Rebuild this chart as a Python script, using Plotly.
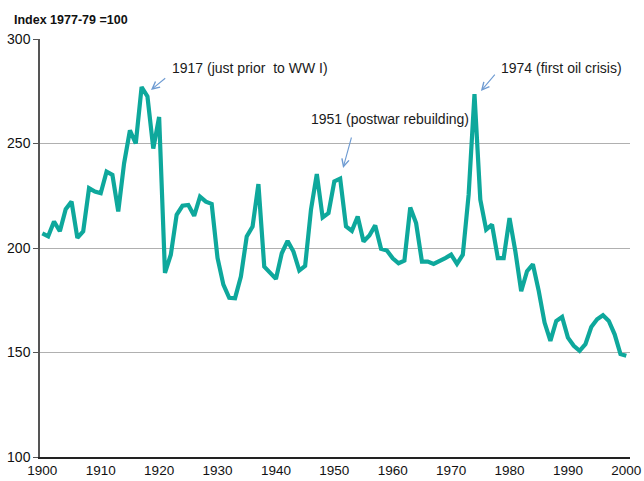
import plotly.graph_objects as go

years = list(range(1900, 2001))
index_values = [
    207, 205.6, 212.7, 208, 218.6, 222.2, 204.8, 208, 228.6, 227,
    226.2, 236.5, 235, 217.5, 240.5, 256.3, 250, 277, 272.5, 247.6,
    262.7, 188.1, 196.8, 215.9, 220.2, 220.6, 215.4, 224.6, 222.2, 221.1,
    195.2, 182.5, 176.2, 176, 186.3, 205.5, 210.3, 230.6, 191.1, 187.9,
    185.2, 197.5, 203.4, 198.3, 189.2, 191.4, 218.3, 235.4, 214.6, 216.7,
    231.9, 233.2, 210.3, 208.2, 215.1, 203.1, 206, 210.8, 199.6, 198.8,
    195.1, 192.7, 194, 219.4, 211.9, 193.5, 193.5, 192.4, 193.6, 195.2,
    196.8, 192.4, 196.8, 225.5, 273.6, 223.1, 208.8, 211.2, 195.2, 195.2,
    214.3, 198.4, 179.3, 188.9, 192.2, 179.5, 164.3, 155.6, 165.1, 167,
    157.1, 153.2, 150.8, 154, 162.2, 165.9, 167.8, 165.1, 158.7, 149.2,
    148.4,
]
x_ticks = list(range(1900, 2001, 10))
y_ticks = [100, 150, 200, 250, 300]

notes = [
    # text, text x, text y, arrow tail x, tail y, arrow tip x, tip y
    ("1917 (just prior  to WW I)", 1921.9, 286.1, 1921.3, 281.8, 1918.6, 275.6),
    ("1951 (postwar rebuilding)", 1945.7, 261.7, 1953.0, 253.6, 1951.5, 238.3),
    ("1974 (first oil crisis)", 1978.2, 286.1, 1977.7, 283.7, 1975.1, 275.1),
]

FONT = "Liberation Sans Narrow, Arial Narrow, Liberation Sans, Arial, sans-serif"

fig = go.Figure()
fig.add_trace(go.Scatter(
    x=years, y=index_values, mode="lines",
    line=dict(color="#0ea89c", width=4.2),
    hoverinfo="skip", showlegend=False,
))

annotations = []
for text, tx, ty, ax_, ay_, px_, py_ in notes:
    annotations.append(dict(
        x=tx, y=ty, xref="x", yref="y", text=text, showarrow=False,
        xanchor="left", yanchor="middle",
        font=dict(family=FONT, size=14, color="#1a1a1a"),
    ))
    annotations.append(dict(
        x=px_, y=py_, ax=ax_, ay=ay_, xref="x", yref="y", axref="x", ayref="y",
        text="", showarrow=True, arrowhead=5, arrowsize=1.3, arrowwidth=1.1,
        arrowcolor="#6e9bd2", standoff=0,
    ))
annotations.append(dict(
    x=(12 - 40) / 590, y=1 + (39 - 20) / 418, xref="paper", yref="paper",
    text="<b>Index 1977-79 =100</b>",
    showarrow=False, xanchor="left", yanchor="middle",
    font=dict(family=FONT, size=12.5, color="#111111"),
))

fig.update_layout(
    width=644, height=481,
    margin=dict(l=40, r=14, t=39, b=24),
    paper_bgcolor="white", plot_bgcolor="white",
    annotations=annotations,
    xaxis=dict(
        range=[1899.6, 2000.63], tickvals=x_ticks,
        ticktext=[str(v) for v in x_ticks],
        showgrid=False, zeroline=False, automargin=False,
        showline=True, linecolor="#222222", linewidth=1.5,
        ticks="", tickfont=dict(family=FONT, size=13.5, color="#111111"),
    ),
    yaxis=dict(
        range=[100, 300], tickvals=y_ticks,
        showgrid=True, gridcolor="#b0b0b0", gridwidth=1.3,
        zeroline=False, automargin=False,
        showline=True, linecolor="#555555", linewidth=1.5,
        ticks="outside", ticklen=5, tickcolor="#555555",
        tickfont=dict(family=FONT, size=14, color="#111111"),
    ),
)

fig.write_html("out.html", config={"displayModeBar": False},
               post_script="document.body.style.margin='0';")
